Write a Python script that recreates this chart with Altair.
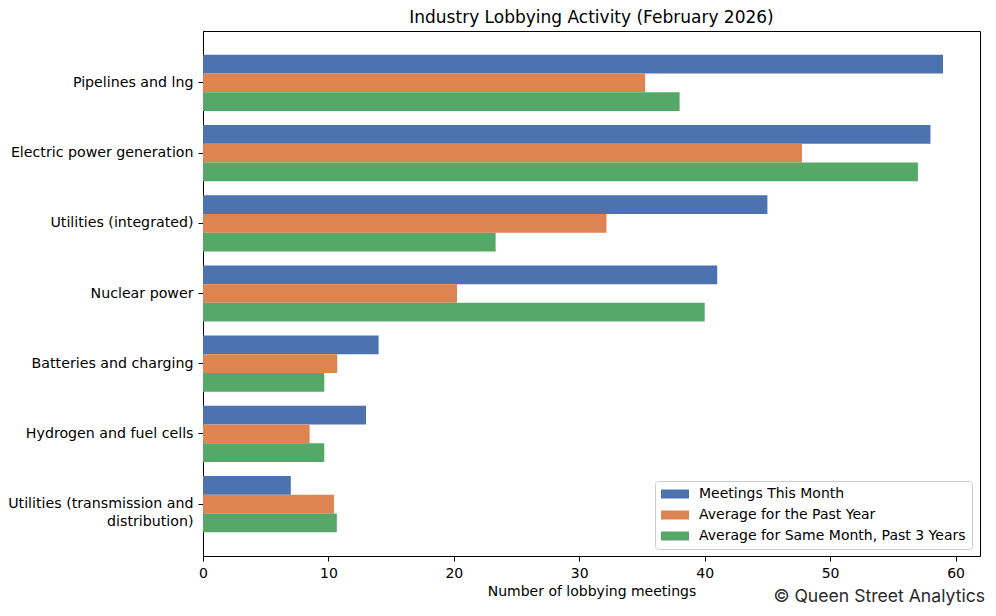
import altair as alt
import pandas as pd

categories = [
    "Pipelines and lng",
    "Electric power generation",
    "Utilities (integrated)",
    "Nuclear power",
    "Batteries and charging",
    "Hydrogen and fuel cells",
    "Utilities (transmission and distribution)",
]
series = [
    "Meetings This Month",
    "Average for the Past Year",
    "Average for Same Month, Past 3 Years",
]
this_month = [59, 58, 45, 41, 14, 13, 7]
past_year = [35.25, 47.75, 32.17, 20.25, 10.7, 8.5, 10.45]
same_month_3y = [38, 57, 23.33, 40, 9.67, 9.67, 10.67]
colors = ["#4C72B0", "#DD8452", "#55A868"]
x_ticks = [0, 10, 20, 30, 40, 50, 60]

rows = []
for s, vals in zip(series, [this_month, past_year, same_month_3y]):
    for c, v in zip(categories, vals):
        rows.append({"category": c, "series": s, "value": v})
df = pd.DataFrame(rows)

FONT = "DejaVu Sans"
W, H = 777, 525

label_expr = (
    "datum.value == 'Utilities (transmission and distribution)' ? "
    "['Utilities (transmission and', 'distribution)'] : datum.value"
)

bars = alt.Chart(df).mark_bar().encode(
    x=alt.X(
        "value:Q",
        scale=alt.Scale(domain=[0, 61.95], nice=False, zero=True),
        axis=alt.Axis(
            values=x_ticks,
            title="Number of lobbying meetings",
            grid=False,
            labelFlush=False,
            labelFontSize=14,
            titleFontSize=14,
            titleFontWeight="normal",
            labelPadding=5,
            titlePadding=4,
        ),
    ),
    y=alt.Y(
        "category:N",
        sort=categories,
        scale=alt.Scale(paddingInner=0.2, paddingOuter=0.34),
        axis=alt.Axis(
            title=None,
            labelExpr=label_expr,
            labelFontSize=14.2,
            labelLineHeight=18,
            labelPadding=5,
            labelLimit=300,
        ),
    ),
    yOffset=alt.YOffset(
        "series:N", sort=series, scale=alt.Scale(paddingInner=0, paddingOuter=0)
    ),
    color=alt.Color(
        "series:N",
        sort=series,
        scale=alt.Scale(domain=series, range=colors),
        legend=alt.Legend(
            title=None,
            orient="none",
            legendX=452,
            legendY=450,
            symbolType="M-2.8,-0.9L2.8,-0.9L2.8,0.9L-2.8,0.9Z",
            symbolSize=100,
            symbolStrokeWidth=0,
            symbolOffset=7,
            labelOffset=17,
            labelFontSize=14,
            labelFont=FONT,
            labelColor="black",
            labelLimit=400,
            fillColor="white",
            strokeColor="#cccccc",
            cornerRadius=3,
            padding=6,
            rowPadding=7,
        ),
    ),
)

note = alt.Chart(pd.DataFrame({"t": ["© Queen Street Analytics"]})).mark_text(
    align="right", baseline="alphabetic", fontSize=17.6, font="Inter", color="#2a2a2a"
).encode(text="t:N", x=alt.value(782), y=alt.value(571))

chart = (
    alt.layer(bars, note)
    .properties(
        width=W,
        height=H,
        title=alt.TitleParams(
            "Industry Lobbying Activity (February 2026)",
            fontSize=17,
            font=FONT,
            fontWeight="normal",
            color="black",
            anchor="middle",
            offset=4,
        ),
        autosize=alt.AutoSizeParams(type="none"),
        padding={"left": 195, "top": 23, "right": 8, "bottom": 52},
    )
    .configure_view(stroke="black", strokeWidth=1)
    .configure_axis(
        domainColor="black",
        tickColor="black",
        tickSize=5,
        labelColor="black",
        titleColor="black",
        labelFont=FONT,
        titleFont=FONT,
    )
)

chart.save("out.html", embed_options={"renderer": "svg", "actions": False})
